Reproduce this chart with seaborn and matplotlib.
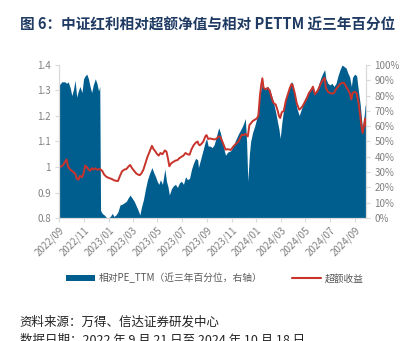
import matplotlib
matplotlib.use("Agg")
import matplotlib.pyplot as plt
from matplotlib.patches import Patch
from matplotlib.lines import Line2D
from matplotlib.ticker import FixedLocator, FuncFormatter
import seaborn as sns
import pandas as pd

# ---- data -------------------------------------------------------------
dates = [
    "2022-09-21", "2022-09-27", "2022-10-01", "2022-10-05", "2022-10-09", "2022-10-13",
    "2022-10-18", "2022-10-22", "2022-10-26", "2022-10-30", "2022-11-03", "2022-11-07",
    "2022-11-11", "2022-11-16", "2022-11-20", "2022-11-24", "2022-11-28", "2022-12-02",
    "2022-12-06", "2022-12-10", "2022-12-14", "2022-12-19", "2022-12-23", "2022-12-27",
    "2022-12-30", "2023-01-01", "2023-01-05", "2023-01-10", "2023-01-15", "2023-01-20",
    "2023-01-25", "2023-01-30", "2023-02-03", "2023-02-08", "2023-02-13", "2023-02-18",
    "2023-02-23", "2023-03-01", "2023-03-06", "2023-03-10", "2023-03-15", "2023-03-20",
    "2023-03-25", "2023-03-30", "2023-04-04", "2023-04-08", "2023-04-12", "2023-04-17",
    "2023-04-22", "2023-04-27", "2023-05-02", "2023-05-08", "2023-05-12", "2023-05-17",
    "2023-05-21", "2023-05-25", "2023-05-29", "2023-06-03", "2023-06-09", "2023-06-13",
    "2023-06-17", "2023-06-20", "2023-06-25", "2023-06-30", "2023-07-05", "2023-07-10",
    "2023-07-15", "2023-07-20", "2023-07-25", "2023-07-30", "2023-08-04", "2023-08-09",
    "2023-08-14", "2023-08-19", "2023-08-24", "2023-08-29", "2023-08-31", "2023-09-03",
    "2023-09-07", "2023-09-12", "2023-09-17", "2023-09-20", "2023-09-24", "2023-09-29",
    "2023-10-04", "2023-10-09", "2023-10-14", "2023-10-20", "2023-10-24", "2023-10-29",
    "2023-11-03", "2023-11-06", "2023-11-11", "2023-11-19", "2023-11-25", "2023-12-01",
    "2023-12-08", "2023-12-16", "2023-12-21", "2023-12-25", "2023-12-28", "2023-12-31",
    "2024-01-04", "2024-01-07", "2024-01-12", "2024-01-17", "2024-01-22", "2024-01-26",
    "2024-01-30", "2024-02-02", "2024-02-05", "2024-02-08", "2024-02-13", "2024-02-18",
    "2024-02-23", "2024-02-28", "2024-03-04", "2024-03-09", "2024-03-14", "2024-03-17",
    "2024-03-20", "2024-03-24", "2024-03-29", "2024-04-03", "2024-04-08", "2024-04-13",
    "2024-04-17", "2024-04-20", "2024-04-25", "2024-04-30", "2024-05-06", "2024-05-10",
    "2024-05-15", "2024-05-20", "2024-05-25", "2024-05-30", "2024-06-04", "2024-06-09",
    "2024-06-14", "2024-06-19", "2024-06-24", "2024-06-29", "2024-07-04", "2024-07-08",
    "2024-07-11", "2024-07-16", "2024-07-21", "2024-07-26", "2024-07-31", "2024-08-05",
    "2024-08-10", "2024-08-15", "2024-08-20", "2024-08-25", "2024-08-30", "2024-09-03",
    "2024-09-08", "2024-09-12", "2024-09-15", "2024-09-20", "2024-09-25", "2024-09-30",
    "2024-10-04", "2024-10-07", "2024-10-10", "2024-10-14", "2024-10-16", "2024-10-18",
]

# relative PE_TTM, percentile over the trailing three years (%)
pe_pct = [
    87, 89, 89, 89, 88, 89,
    85, 80, 84, 90, 79, 83,
    86, 82, 91, 93, 94, 91,
    86, 82, 87, 91, 88, 83,
    86, 5, 3, 2, 0.5, 0,
    1, 3, 1, 2, 4, 8.5,
    9, 10, 11, 13, 15, 13,
    11, 8, 5, 2, 7, 12,
    19, 25, 29, 33, 30, 27,
    24, 22, 25, 22, 32, 24,
    20, 15, 19, 21, 22, 20,
    23, 24, 22, 27, 25, 26,
    32, 36, 39, 38, 33, 36,
    40, 45, 50, 52, 47, 47,
    46, 48, 53, 59, 56, 50,
    44, 41, 43, 44, 47, 51,
    55, 59, 62, 65, 50, 24,
    42, 50, 56, 60, 65, 72,
    80, 85, 87, 85, 84, 86,
    84, 80, 75, 69, 62, 58,
    52, 62, 72, 78, 83, 87,
    89, 88, 80, 72, 67, 70,
    74, 78, 80, 83, 85, 86,
    82, 84, 88, 92, 95, 97,
    91, 88, 87, 88, 86, 88,
    93, 97, 100, 99, 98, 95,
    92, 86, 92, 94, 93, 82,
    74, 65, 58, 68, 74, 73,
]

# cumulative excess return (net value)
excess = [
    1.000, 1.003, 1.009, 1.020, 1.030, 1.000,
    0.990, 0.985, 0.980, 0.975, 0.955, 0.950,
    0.965, 0.960, 0.975, 1.005, 1.000, 0.990,
    0.985, 0.995, 0.990, 0.995, 0.990, 0.990,
    0.993, 0.990, 0.985, 0.970, 0.962, 0.958,
    0.955, 0.952, 0.948, 0.946, 0.945, 0.965,
    0.983, 0.990, 0.992, 1.000, 1.008, 0.995,
    0.985, 0.975, 0.970, 0.968, 0.975, 0.990,
    1.015, 1.040, 1.060, 1.083, 1.070, 1.060,
    1.050, 1.045, 1.055, 1.050, 1.065, 1.060,
    1.030, 1.003, 1.015, 1.020, 1.025, 1.027,
    1.035, 1.040, 1.045, 1.055, 1.050, 1.048,
    1.070, 1.085, 1.095, 1.100, 1.090, 1.085,
    1.090, 1.100, 1.120, 1.125, 1.110, 1.112,
    1.110, 1.108, 1.110, 1.120, 1.118, 1.100,
    1.080, 1.068, 1.070, 1.067, 1.080, 1.090,
    1.100, 1.127, 1.125, 1.130, 1.125, 1.120,
    1.165, 1.170, 1.180, 1.185, 1.190, 1.200,
    1.280, 1.320, 1.348, 1.310, 1.305, 1.310,
    1.300, 1.270, 1.250, 1.245, 1.220, 1.200,
    1.192, 1.215, 1.220, 1.260, 1.285, 1.310,
    1.325, 1.320, 1.290, 1.250, 1.225, 1.230,
    1.240, 1.255, 1.270, 1.290, 1.300, 1.315,
    1.285, 1.295, 1.310, 1.330, 1.342, 1.350,
    1.310, 1.295, 1.290, 1.288, 1.290, 1.305,
    1.315, 1.325, 1.330, 1.330, 1.315, 1.305,
    1.290, 1.265, 1.290, 1.295, 1.290, 1.250,
    1.200, 1.160, 1.133, 1.170, 1.190, 1.160,
]

x_tick_dates = [
    "2022-09-21", "2022-11-21", "2023-01-21", "2023-03-21", "2023-05-21", "2023-07-21",
    "2023-09-21", "2023-11-21", "2024-01-21", "2024-03-21", "2024-05-21", "2024-07-21",
    "2024-09-21",
]
left_ticks = [0.8, 0.9, 1.0, 1.1, 1.2, 1.3, 1.4]
right_ticks = [0, 10, 20, 30, 40, 50, 60, 70, 80, 90, 100]

title = "图 6：中证红利相对超额净值与相对 PETTM 近三年百分位"
area_label = "相对PE_TTM（近三年百分位，右轴）"
line_label = "超额收益"
source_note = "资料来源：万得、信达证券研发中心"
date_note = "数据日期：2022 年 9 月 21 日至 2024 年 10 月 18 日"

# ---- style ------------------------------------------------------------
BLUE = "#005E8F"
RED = "#C8332B"
NAVY = "#1F3A63"
AXIS_GREY = "#D9D9D9"
TICK_GREY = "#808080"
LEGEND_GREY = "#595959"

sns.set_theme(style="white")
plt.rcParams["font.family"] = ["Noto Sans CJK SC", "DejaVu Sans"]
plt.rcParams["axes.unicode_minus"] = False

df = pd.DataFrame({
    "date": pd.to_datetime(dates),
    "pe_pct": pe_pct,
    "excess": excess,
})

fig = plt.figure(figsize=(4.13, 3.41), dpi=100)
fig.patch.set_facecolor("white")

ax = fig.add_axes([0.1436, 0.3607, 0.7424, 0.4487])
ax2 = ax.twinx()

# percentile area on the right axis, drawn underneath
ax2.fill_between(df["date"], 0, df["pe_pct"], color=BLUE, linewidth=0)
ax2.set_ylim(0, 100)

# excess-return line on the left axis, drawn on top
ax.set_zorder(ax2.get_zorder() + 1)
ax.patch.set_visible(False)
sns.lineplot(data=df, x="date", y="excess", ax=ax, color=RED, linewidth=1.4, legend=False)
ax.set_ylim(0.8, 1.4)
ax.set_xlim(df["date"].iloc[0], df["date"].iloc[-1])

# axes cosmetics
ax.set_xlabel("")
ax.set_ylabel("")
ax2.set_ylabel("")
for side in ("top", "right"):
    ax.spines[side].set_visible(False)
for side in ("top", "left", "bottom"):
    ax2.spines[side].set_visible(False)
for sp in (ax.spines["left"], ax.spines["bottom"], ax2.spines["right"]):
    sp.set_color(AXIS_GREY)
    sp.set_linewidth(0.9)

ax.yaxis.set_major_locator(FixedLocator(left_ticks))
ax.yaxis.set_major_formatter(FuncFormatter(lambda v, _: f"{round(v, 1):g}"))
ax2.yaxis.set_major_locator(FixedLocator(right_ticks))
ax2.yaxis.set_major_formatter(FuncFormatter(lambda v, _: f"{int(round(v))}%"))

tick_pos = pd.to_datetime(x_tick_dates)
ax.set_xticks(tick_pos)
ax.set_xticklabels([d.strftime("%Y/%m") for d in tick_pos], rotation=45,
                   ha="right", rotation_mode="anchor")

ax.tick_params(axis="y", which="major", length=3, width=0.8, color=AXIS_GREY,
               labelsize=7, labelcolor=TICK_GREY, pad=3, left=True)
ax.tick_params(axis="x", which="major", length=3, width=0.8, color=AXIS_GREY,
               labelsize=7, labelcolor=TICK_GREY, pad=2, bottom=True)
ax2.tick_params(axis="y", which="major", length=3, width=0.8, color=AXIS_GREY,
                labelsize=7, labelcolor=TICK_GREY, pad=3, right=True)

# legend under the plot
handles = [Patch(facecolor=BLUE, edgecolor="none"),
           Line2D([0], [0], color=RED, linewidth=1.5)]
fig.legend(handles, [area_label, line_label], loc="center",
           bbox_to_anchor=(0.52, 1 - 278 / 341), ncol=2, frameon=False,
           fontsize=7, labelcolor=LEGEND_GREY, handlelength=3.0,
           handleheight=0.6, columnspacing=3.0, handletextpad=0.4)

# title and notes
fig.text(0.048, 1 - 25 / 341, title, fontsize=10.5, fontweight="bold",
         color=NAVY, va="center", ha="left")
fig.text(0.048, 1 - 322 / 341, source_note, fontsize=9, color="#222222",
         va="center", ha="left")
fig.text(0.048, 1 - 334 / 341, date_note, fontsize=9, color="#222222",
         va="top", ha="left")

fig.savefig("out.png", dpi=100, facecolor="white")
